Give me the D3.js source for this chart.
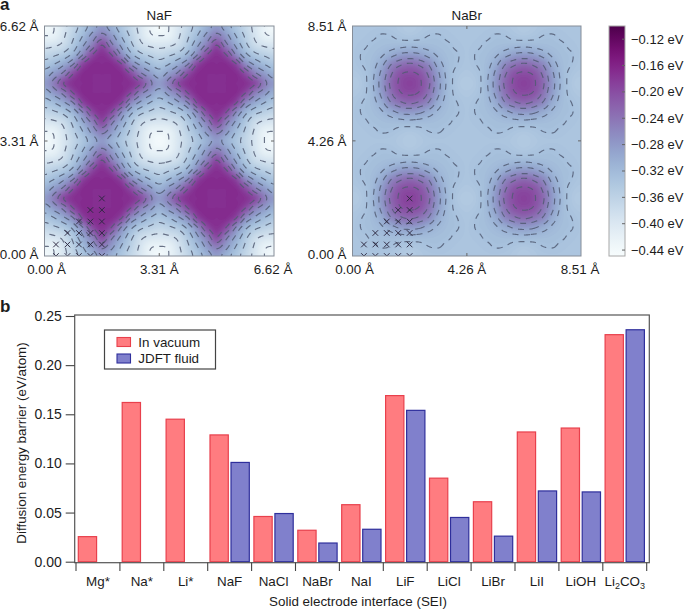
<!DOCTYPE html>
<html><head><meta charset="utf-8">
<style>html,body{margin:0;padding:0;background:#fff}svg{display:block}text{font-family:"Liberation Sans",Arial,sans-serif;fill:#1c1c1c}</style>
<script src="https://cdn.jsdelivr.net/npm/d3@7"></script>
</head><body><svg id="c" width="685" height="609"></svg>
<script>
// Panel a: energy (eV), one quadrant of the repeating tile
const nafQuadrant = [
 [-.44,-.425,-.395,-.365,-.335,-.305,-.28],
 [-.425,-.42,-.39,-.355,-.32,-.28,-.25],
 [-.395,-.39,-.375,-.34,-.295,-.25,-.20],
 [-.365,-.355,-.34,-.31,-.26,-.20,-.175],
 [-.335,-.32,-.295,-.26,-.195,-.17,-.17],
 [-.305,-.28,-.25,-.20,-.17,-.17,-.17],
 [-.28,-.25,-.20,-.175,-.17,-.17,-.17]];
const nabrQuadrant = [
 [-.335,-.335,-.335,-.335,-.336,-.34,-.345],
 [-.335,-.335,-.333,-.329,-.33,-.335,-.338],
 [-.335,-.333,-.328,-.325,-.322,-.32,-.318],
 [-.335,-.329,-.325,-.316,-.30,-.285,-.28],
 [-.336,-.33,-.322,-.30,-.262,-.24,-.23],
 [-.34,-.335,-.32,-.285,-.24,-.208,-.20],
 [-.345,-.338,-.318,-.28,-.23,-.20,-.19]];
const nafLevels = [-.425,-.385,-.35,-.32,-.29,-.26,-.23,-.20];
const nabrLevels = [-.33,-.312,-.29,-.26,-.235,-.205];
const crossRows = [[1,2,3,4,5],[1,2,3,4,5],[2,3,4,5],[3,4,5],[4,5],[5]];
const colorTicks = [-.12,-.16,-.20,-.24,-.28,-.32,-.36,-.40,-.44];
const nafTicks = [0,3.31,6.62];
const nabrTicks = [0,4.26,8.51];

// Panel b
const categories = ["Mg*","Na*","Li*","NaF","NaCl","NaBr","NaI","LiF","LiCl","LiBr","LiI","LiOH","Li2CO3"];
const vacuum = [.0255,.162,.145,.129,.046,.032,.058,.169,.085,.061,.132,.136,.231];
const fluid = [null,null,null,.101,.049,.019,.033,.154,.045,.026,.072,.071,.236];
const seriesNames = ["In vacuum","JDFT fluid"];
const yTicks = [0,.05,.10,.15,.20,.25];

const svg = d3.select("#c");
const FS = 13.4;
const color = d3.scaleSequential(d3.interpolateBuPu).domain([-.449,-.100]);
const defs = svg.append("defs");

// bicubic sampling of a periodic tile, for a smooth display of the read grid
function tile(q){const t=[];for(let j=0;j<12;j++){const r=[];const jj=j<=6?j:12-j;for(let i=0;i<12;i++){r.push(q[jj][i<=6?i:12-i]);}t.push(r);}return t;}
function cr(a,b,c,d,t){return .5*(2*b+(c-a)*t+(2*a-5*b+4*c-d)*t*t+(3*b-a-3*c+d)*t*t*t);}
function sample(t,u,v){const m=n=>((n%12)+12)%12;const i=Math.floor(u),j=Math.floor(v),fx=u-i,fy=v-j;const col=[];
 for(let b=-1;b<=2;b++){const r=t[m(j+b)];col.push(cr(r[m(i-1)],r[m(i)],r[m(i+1)],r[m(i+2)],fx));}
 return cr(col[0],col[1],col[2],col[3],fy);}

function panel(id,x0,x1,y0,y1,extent,q,levels,ticks,title,tickMarks){
 const x=d3.scaleLinear().domain([0,extent]).range([x0,x1]);
 const y=d3.scaleLinear().domain([0,extent]).range([y1,y0]);
 const M=4,W=Math.round(x1-x0)+2*M,H=Math.round(y1-y0)+2*M;
 const gx=d3.scaleLinear().domain([0,W]).range([x0-M,x1+M]);
 const gy=d3.scaleLinear().domain([0,H]).range([y0-M,y1+M]);
 const t=tile(q),vals=new Float64Array(W*H);
 for(let j=0;j<H;j++)for(let i=0;i<W;i++){
  const u=x.invert(gx(i+.5))/(extent/2)*12,v=y.invert(gy(j+.5))/(extent/2)*12;
  vals[j*W+i]=sample(t,u,v);}
 const path=d3.geoPath(d3.geoTransform({point(a,b){this.stream.point(gx(a),gy(b));}}));
 defs.append("clipPath").attr("id",id).append("rect").attr("x",x0).attr("y",y0).attr("width",x1-x0).attr("height",y1-y0);
 const g=svg.append("g").attr("clip-path",`url(#${id})`);
 const fills=d3.range(-.45,-.10,.0035);
 g.append("rect").attr("x",x0).attr("y",y0).attr("width",x1-x0).attr("height",y1-y0).attr("fill",color(-.449));
 g.selectAll("path.f").data(d3.contours().size([W,H]).thresholds(fills)(vals)).join("path")
  .attr("d",path).attr("fill",d=>color(d.value+.00175)).attr("stroke","none");
 g.selectAll("path.l").data(d3.contours().size([W,H]).thresholds(levels)(vals)).join("path")
  .attr("d",path).attr("fill","none").attr("stroke","#515b72").attr("stroke-opacity",.85)
  .attr("stroke-width",1.15).attr("stroke-dasharray","6 5.5");
 const step=extent/20;
 const pts=crossRows.flatMap((r,row)=>r.map(c=>[c*step,row*step]));
 g.selectAll("path.x").data(pts).join("path")
  .attr("d",d=>{const a=x(d[0]),b=y(d[1]),s=2.8;return `M${a-s},${b-s}L${a+s},${b+s}M${a-s},${b+s}L${a+s},${b-s}`;})
  .attr("stroke","#2c2840").attr("stroke-width",.95).attr("fill","none");
 svg.append("rect").attr("x",x0).attr("y",y0).attr("width",x1-x0).attr("height",y1-y0)
  .attr("fill","none").attr("stroke","#868d98").attr("stroke-width",1);
 const tk=svg.append("g").attr("stroke","#666").attr("stroke-width",1);
 tickMarks.forEach(v=>{
  tk.append("line").attr("x1",x(v)).attr("x2",x(v)).attr("y1",y1).attr("y2",y1-3);
  tk.append("line").attr("x1",x(v)).attr("x2",x(v)).attr("y1",y0).attr("y2",y0+3);
  tk.append("line").attr("y1",y(v)).attr("y2",y(v)).attr("x1",x0).attr("x2",x0+3);
  tk.append("line").attr("y1",y(v)).attr("y2",y(v)).attr("x1",x1).attr("x2",x1-3);
 });
 const fmt=d3.format(".2f");
 ticks.forEach((v,i)=>{
  const dx=i===0?2:i===2?-1:0;
  svg.append("text").attr("x",x(v)+dx).attr("y",274).attr("text-anchor","middle").attr("font-size",FS).text(fmt(v)+" Å");
  svg.append("text").attr("x",x0-6).attr("y",y(v)+(i===1?5:i===0?3:5)).attr("text-anchor","end").attr("font-size",FS).text(fmt(v)+" Å");
 });
 svg.append("text").attr("x",(x0+x1)/2).attr("y",20).attr("text-anchor","middle").attr("font-size",FS).text(title);
}
panel("pa",44.5,274,26,256,6.62,nafQuadrant,nafLevels,nafTicks,"NaF",[3.31]);
panel("pb",352.5,581,26,256,8.51,nabrQuadrant,nabrLevels,nabrTicks,"NaBr",[4.26]);

// colour bar
const cy=d3.scaleLinear().domain(color.domain()).range([256,26]);
const grad=defs.append("linearGradient").attr("id","cb").attr("x1",0).attr("x2",0).attr("y1",1).attr("y2",0);
d3.range(0,1.0001,.05).forEach(t=>grad.append("stop").attr("offset",t).attr("stop-color",d3.interpolateBuPu(t)));
svg.append("rect").attr("x",609).attr("y",26).attr("width",16).attr("height",230).attr("fill","url(#cb)").attr("stroke","#a8a8a8").attr("stroke-width",1);
colorTicks.forEach(v=>{
 svg.append("line").attr("x1",625).attr("x2",622).attr("y1",cy(v)).attr("y2",cy(v)).attr("stroke","#666");
 svg.append("text").attr("x",631).attr("y",cy(v)+4.5).attr("font-size",13).text(d3.format(".2f")(v).replace("-","−")+" eV");
});

// panel b
const bx=d3.scaleBand().domain(categories).range([76,646.7]);
const inner=d3.scaleBand().domain(seriesNames).range([2.3,41.6]).paddingInner(.13);
const by=d3.scaleLinear().domain([0,.25]).range([561.7,316]);
const colors={fill:["#ff7c80","#8080cc"],stroke:["#e8404c","#2f2f9c"]};
[vacuum,fluid].forEach((vals,s)=>{
 svg.append("g").selectAll("rect").data(categories.map((c,i)=>({c,v:vals[i]})).filter(d=>d.v!==null)).join("rect")
  .attr("x",d=>bx(d.c)+inner(seriesNames[s])).attr("width",inner.bandwidth())
  .attr("y",d=>by(d.v)).attr("height",d=>by(0)-by(d.v))
  .attr("fill",colors.fill[s]).attr("stroke",colors.stroke[s]).attr("stroke-width",1.2);
});
svg.append("rect").attr("x",74.7).attr("y",315).attr("width",574.6).attr("height",247.7)
 .attr("fill","none").attr("stroke","#555").attr("stroke-width",1.2);
const yAxis=d3.axisLeft(by).tickValues(yTicks).tickFormat(d3.format(".2f")).tickSize(9).tickPadding(4);
const ga=svg.append("g").attr("transform","translate(74.7,0)").call(yAxis);
ga.select(".domain").remove();
ga.selectAll("line").attr("stroke","#444").attr("stroke-width",1.1);
ga.selectAll("text").attr("font-size",14).attr("font-family",null);
const tickG=svg.append("g").attr("stroke","#444").attr("stroke-width",1.1);
categories.concat([null]).forEach((c,i)=>{
 const p=c?bx(c):bx.range()[1];
 tickG.append("line").attr("x1",p).attr("x2",p).attr("y1",562.5).attr("y2",571);
});
categories.forEach(c=>{
 const t=svg.append("text").attr("x",bx(c)+bx.bandwidth()/2).attr("y",586).attr("text-anchor","middle").attr("font-size",FS);
 c.split(/(\d)/).forEach((part,i)=>{ if(!part) return;
  const sub=/\d/.test(part);
  const sp=t.append("tspan").attr("font-size",sub?9:FS).text(part);
  if(sub) sp.attr("dy",3); else if(i>0) sp.attr("dy",-3);
 });
});
svg.append("text").attr("x",358).attr("y",606).attr("text-anchor","middle").attr("font-size",FS).text("Solid electrode interface (SEI)");
svg.append("text").attr("transform","translate(25.5,443) rotate(-90)").attr("text-anchor","middle").attr("font-size",FS).text("Diffusion energy barrier (eV/atom)");
// legend
svg.append("rect").attr("x",104.5).attr("y",330).attr("width",111).attr("height",39).attr("fill","#fff").attr("stroke","#444").attr("stroke-width",1.2);
seriesNames.forEach((n,i)=>{
 const yy=[337.5,354][i];
 svg.append("rect").attr("x",117).attr("y",yy).attr("width",13.5).attr("height",9).attr("fill",colors.fill[i]).attr("stroke",colors.stroke[i]).attr("stroke-width",1.1);
 svg.append("text").attr("x",138.3).attr("y",[346.5,363][i]).attr("font-size",FS).text(n);
});
// panel letters
svg.append("text").attr("x",0).attr("y",10).attr("font-size",17).attr("font-weight","bold").attr("fill","#000").text("a");
svg.append("text").attr("x",0).attr("y",312).attr("font-size",17).attr("font-weight","bold").attr("fill","#000").text("b");
</script></body></html>
